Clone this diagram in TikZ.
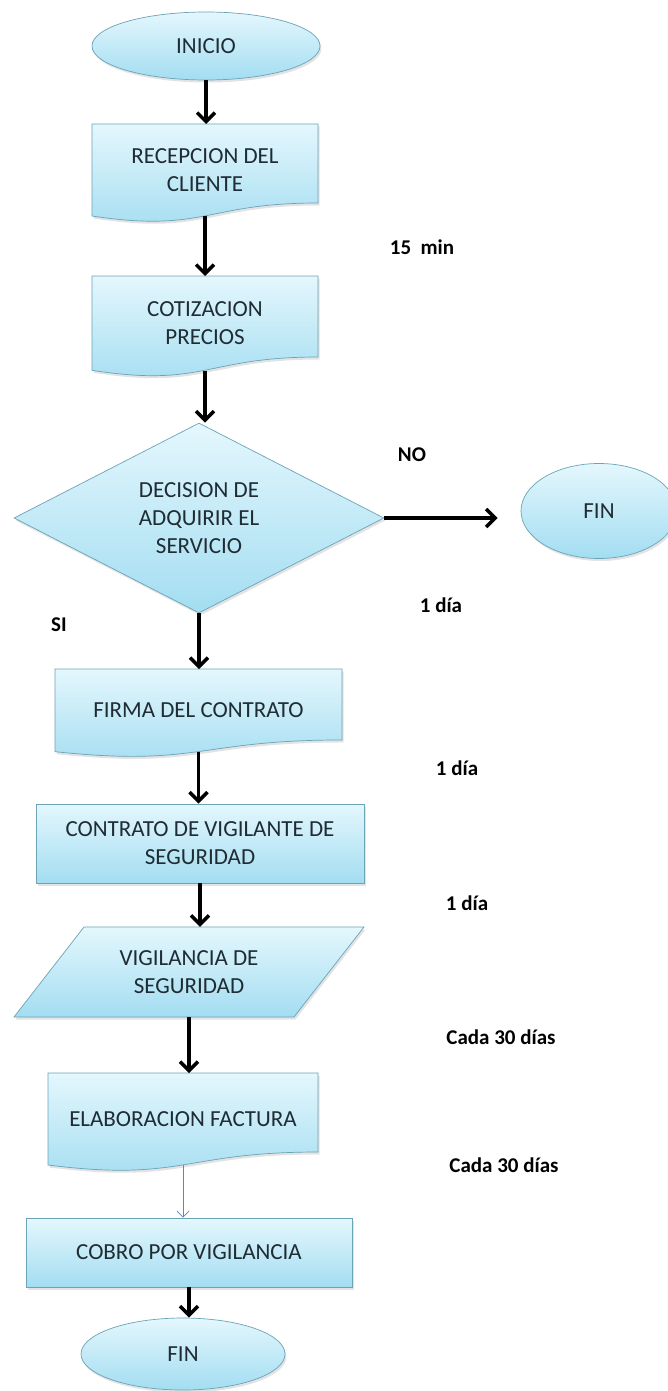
\documentclass[tikz,border=0pt]{standalone}
\usepackage{fontspec}
\setmainfont{Carlito}
\usetikzlibrary{shapes.geometric,arrows.meta,shadows,calc}
\definecolor{boxtop}{HTML}{E4F7FD}
\definecolor{boxbot}{HTML}{A3DDF1}
\definecolor{boxline}{HTML}{6BA3B7}
\definecolor{txtc}{HTML}{1F2C34}
\definecolor{thinarr}{HTML}{5E87BA}
\tikzset{
  shapefill/.style={top color=boxtop, bottom color=boxbot, draw=boxline, line width=0.7pt,
    drop shadow={opacity=0.22, shadow xshift=1.5pt, shadow yshift=-2.5pt}},
  txt/.style={font=\fontsize{23}{28}\selectfont, text=txtc, align=center, inner sep=0pt},
  rectbox/.style={shapefill, txt, rectangle},
  ellbox/.style={shapefill, txt, ellipse},
  diabox/.style={shapefill, txt, diamond, shape aspect=2},
  lbl/.style={font=\bfseries\fontsize{21}{25}\selectfont, text=black, inner sep=0pt},
  arr/.style={line width=3.5pt, -{Straight Barb[length=9pt,width=18pt]}},
  thinarrow/.style={line width=0.8pt, draw=thinarr, -{Straight Barb[length=6pt,width=12pt]}}
}
% name, cx, top, width, height, text
\newcommand\docbox[6]{%
  \path[shapefill] ({#2-#4/2},#3) -- ({#2+#4/2},#3) -- ({#2+#4/2},{#3+0.802*#5})
    .. controls (#2,{#3+0.802*#5}) and (#2,{#3+1.107*#5}) .. ({#2-#4/2},{#3+0.934*#5}) -- cycle;
  \node[txt, minimum width=#4pt, minimum height={0.933*#5pt}, anchor=north] (#1) at (#2,#3) {#6};
}
\begin{document}
\begin{tikzpicture}[x=1pt,y=-1pt]
\useasboundingbox (0,0) rectangle (668,1391);
\fill[white] (0,0) rectangle (668,1391);

\node[ellbox, minimum width=228pt, minimum height=68pt] (ini) at (206,46) {INICIO};
\docbox{b1}{205}{124}{226}{98.5}{RECEPCION DEL\\CLIENTE}
\docbox{b2}{205}{276}{226}{101}{COTIZACION\\PRECIOS}
\node[diabox, minimum width=370pt, minimum height=190pt] (dia) at (199,518) {DECISION DE\\ADQUIRIR EL\\SERVICIO};
\node[ellbox, minimum width=156pt, minimum height=95pt] (fin1) at (599,511) {FIN};
\docbox{b3}{198.5}{669}{287}{88.5}{FIRMA\ DEL CONTRATO}
\node[rectbox, minimum width=328pt, minimum height=79pt] (b4) at (200,843.5) {CONTRATO DE VIGILANTE DE\\SEGURIDAD};
\path[shapefill] (84,927) -- (364,927) -- (294,1017) -- (14,1017) -- cycle;
\node[txt, minimum width=200pt, minimum height=90pt] (para) at (189,972) {VIGILANCIA DE\\SEGURIDAD};
\docbox{b5}{183}{1073}{270}{98.5}{ELABORACION FACTURA}
\node[rectbox, minimum width=326pt, minimum height=69pt] (b6) at (189,1252.5) {COBRO POR VIGILANCIA};
\node[ellbox, minimum width=204pt, minimum height=72pt] (fin2) at (183,1354) {FIN};

\draw[arr] (ini.south) -- (ini.south |- b1.north);
\draw[arr] (b1.south) -- (b1.south |- b2.north);
\draw[arr] (b2.south) -- (b2.south |- dia.north);
\draw[arr, shorten >=23pt] (dia.east) -- (dia.east -| fin1.west);
\draw[arr] (dia.south) -- (dia.south |- b3.north);
\draw[arr] (b3.south) -- (b3.south |- b4.north);
\draw[arr] (b4.south) -- (b4.south |- para.north);
\draw[arr] (para.south) -- (para.south |- b5.north);
\draw[thinarrow] (b5.south) -- (b5.south |- b6.north);
\draw[arr] (b6.south) -- (b6.south |- fin2.north);

\node[lbl] (l15) at (422,247) {15\ \ min};
\node[lbl] (lno) at (412,455) {NO};
\node[lbl] (lsi) at (59,625) {SI};
\node[lbl] (l1a) at (441,605) {1 día};
\node[lbl] (l1b) at (457,768) {1 día};
\node[lbl] (l1c) at (467,903) {1 día};
\node[lbl] (lc1) at (501,1037) {Cada 30 días};
\node[lbl] (lc2) at (504,1165) {Cada 30 días};
\end{tikzpicture}
\end{document}
